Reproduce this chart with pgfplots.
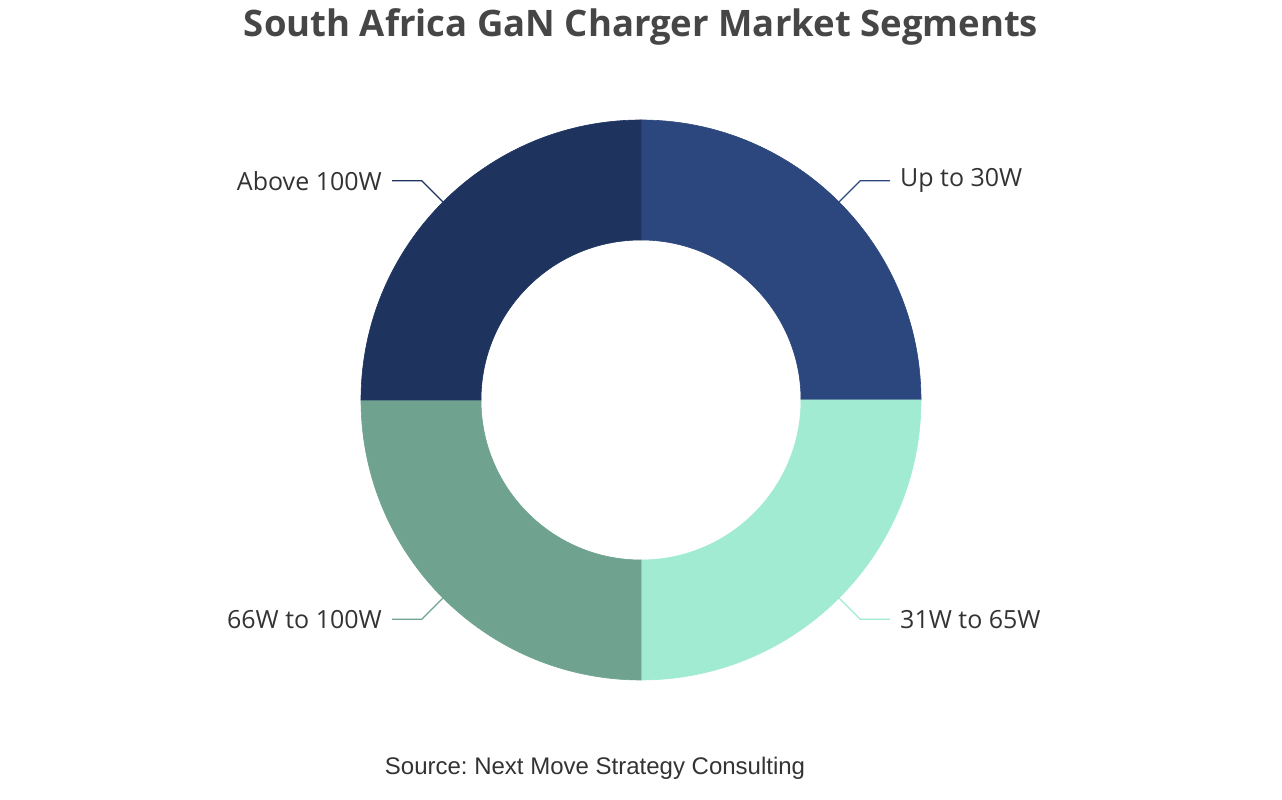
\documentclass[border=0pt]{standalone}
\usepackage{pgfplots}
\pgfplotsset{compat=1.18}
\usepackage{pgfplotstable}
\usepackage{fontspec}
\setmainfont{Open Sans}
\newfontfamily\srcfont{Liberation Sans}
\frenchspacing
\definecolor{c1}{HTML}{2C477D}
\definecolor{c2}{HTML}{A0EBD1}
\definecolor{c3}{HTML}{6FA38F}
\definecolor{c4}{HTML}{1E345F}
\definecolor{txt}{HTML}{333333}
\definecolor{ttl}{HTML}{464646}

\pgfplotstableread[col sep=comma]{
label,value,col
Up to 30W,25,c1
31W to 65W,25,c2
66W to 100W,25,c3
Above 100W,25,c4
}\segs

% build the drawing commands from the table
\def\segtotal{0}
\pgfplotstableforeachcolumnelement{value}\of\segs\as\cell{%
  \pgfmathsetmacro\segtmp{\segtotal+\cell}\xdef\segtotal{\segtmp}}
\def\segcum{0}
\def\Ro{280}
\def\Ri{160}
\gdef\allcmds{}
\pgfplotstablegetrowsof{\segs}
\pgfmathtruncatemacro\seglast{\pgfplotsretval-1}
\pgfplotsforeachungrouped \i in {0,...,\seglast}{%
  \pgfplotstablegetelem{\i}{value}\of\segs \let\segval\pgfplotsretval
  \pgfplotstablegetelem{\i}{label}\of\segs \let\seglab\pgfplotsretval
  \pgfplotstablegetelem{\i}{col}\of\segs \let\segcol\pgfplotsretval
  \pgfmathsetmacro\sa{90-\segcum/\segtotal*360}%
  \pgfmathsetmacro\ea{90-(\segcum+\segval)/\segtotal*360}%
  \pgfmathsetmacro\ma{(\sa+\ea)/2}%
  \pgfmathsetmacro\xa{\Ro*cos(\sa)}\pgfmathsetmacro\ya{\Ro*sin(\sa)}%
  \pgfmathsetmacro\xb{\Ri*cos(\ea)}\pgfmathsetmacro\yb{\Ri*sin(\ea)}%
  \pgfmathsetmacro\lx{279*cos(\ma)}\pgfmathsetmacro\ly{279*sin(\ma)}%
  \pgfmathsetmacro\ex{310*cos(\ma)}\pgfmathsetmacro\ey{310*sin(\ma)}%
  \pgfmathsetmacro\cosma{cos(\ma)}%
  \ifdim\cosma pt<0pt \def\side{-1}\def\anc{east}\else\def\side{1}\def\anc{west}\fi
  \pgfmathsetmacro\hx{249*\side}\pgfmathsetmacro\tx{259*\side}%
  \edef\cmd{%
    \noexpand\fill[\segcol,draw=\segcol,line width=0.6pt] (axis cs:\xa,\ya)
      arc[start angle=\sa,end angle=\ea,radius=\Ro pt]
      -- (axis cs:\xb,\yb)
      arc[start angle=\ea,end angle=\sa,radius=\Ri pt] -- cycle;
    \noexpand\draw[\segcol,line width=1.3pt] (axis cs:\lx,\ly) -- (axis cs:\ex,\ey) -- (axis cs:\hx,\ey);
    \noexpand\node[anchor=\anc,inner sep=0pt,text=txt,font=\noexpand\fontsize{25}{30}\noexpand\selectfont] at (axis cs:\tx,\ey) {\seglab};
  }%
  \xdef\allcmds{\unexpanded\expandafter{\allcmds}\unexpanded\expandafter{\cmd}}%
  \pgfmathsetmacro\segtmp{\segcum+\segval}\xdef\segcum{\segtmp}%
}

\begin{document}
\begin{tikzpicture}
\begin{axis}[x=1pt,y=1pt,xmin=-641,xmax=641,ymin=-400,ymax=400,
  hide axis,clip=false,scale only axis]
\path (rel axis cs:0,0) rectangle (rel axis cs:1,1);
\allcmds
\node[text=ttl,inner sep=0pt,font=\bfseries\fontsize{36.5}{44}\selectfont] at (axis cs:0,373) {South Africa GaN Charger Market Segments};
\node[text=txt,inner sep=0pt,font=\srcfont\fontsize{24}{29}\selectfont] at (axis cs:-46,-368) {Source: Next Move Strategy Consulting};
\end{axis}
\end{tikzpicture}
\end{document}
